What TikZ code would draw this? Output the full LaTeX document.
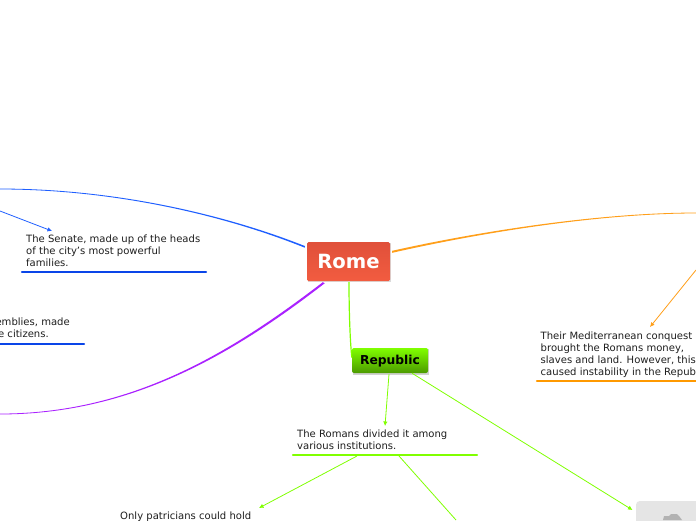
\documentclass[tikz,border=0pt]{standalone}
\usepackage{fontspec}
\setmainfont{DejaVu Sans}
\usetikzlibrary{arrows.meta,calc}
\definecolor{linkblue}{HTML}{1F5FFF}
\definecolor{ulblue}{HTML}{0A45E8}
\definecolor{linkorange}{HTML}{FF9F1A}
\definecolor{ulorange}{HTML}{FF9900}
\definecolor{linkgreen}{HTML}{80FF00}
\definecolor{linkpurple}{HTML}{AA22FF}
\definecolor{rometop}{HTML}{E0503A}
\definecolor{romebot}{HTML}{F25C40}
\definecolor{reptop}{HTML}{80FF00}
\definecolor{repbot}{HTML}{4C9A00}
\tikzset{
  x=1pt,y=-1pt,
  body/.style={anchor=north west,inner sep=0pt,align=left,text=black!88,font=\fontsize{10.05}{12}\selectfont},
  romebox/.style={minimum width=83pt,minimum height=39pt,inner sep=0pt,rounded corners=1.5pt,top color=rometop,bottom color=romebot,text=white,font=\bfseries\fontsize{19.6}{22}\selectfont},
  repbox/.style={minimum width=76pt,minimum height=25pt,inner sep=0pt,rounded corners=2pt,top color=reptop,bottom color=repbot,text=black,font=\bfseries\fontsize{12.3}{14}\selectfont},
  thin arrow/.style={line width=.8pt,-{Latex[length=4.5pt,width=4.5pt]}},
  underl/.style={line width=2.2pt,line cap=round}
}
\begin{document}
\begin{tikzpicture}
\useasboundingbox (0,0) rectangle (696,520);
\clip (0,0) rectangle (696,520);
\fill[white] (0,0) rectangle (696,520);

% free ends
\coordinate (bl) at (0,189);
\coordinate (pl) at (0,414);
\coordinate (or) at (696,213);
\coordinate (bs) at (0,211);
\coordinate (os) at (696,270);
\coordinate (gb) at (456,520);

% image placeholder
\node[fill=black!10,rounded corners=3pt,minimum width=80pt,minimum height=40pt,anchor=north west,inner sep=0pt] (img) at (636,501) {};
\fill[black!30] (663,520) -- (664,516) -- (669,516) -- (671,514) -- (677,514) -- (679,516) -- (682,520) -- cycle;

% central nodes
\fill[black!14] (307.5,243) rectangle (390.5,282);
\fill[black!18] (352.5,349) rectangle (428.5,374.5);
\node[romebox,text depth=0pt,text height=14pt] (rome) at (348.5,261.5) {Rome};
\node[repbox,text depth=2pt,text height=9.5pt] (rep) at (390,360.5) {Republic};

% text nodes
\node[body] (senate) at (26,234.7) {The Senate, made up of the heads\\of the city's most powerful\\families.};
\node[body,anchor=north east] (assem) at (70,317.7) {emblies, made};
\node[body,anchor=north east] (citiz) at (49,329.7) {e citizens.};
\node[body] (conq) at (540.5,331.7) {Their Mediterranean conquest\\brought the Romans money,\\slaves and land. However, this\\caused instability in the Republ};
\node[body] (inst) at (297,429.7) {The Romans divided it among\\various institutions.};
\node[body] (patr) at (120,512) {Only patricians could hold};

% underlines
\coordinate (su1) at (22,272); \coordinate (su2) at (206,272);
\coordinate (au1) at (0,344); \coordinate (au2) at (84,344);
\coordinate (cu1) at (537,381); \coordinate (cu2) at (696,381);
\coordinate (iu1) at (293,455); \coordinate (iu2) at (477,455);
\draw[underl,ulblue] (su1) -- (su2);
\draw[underl,ulblue] (au1) -- (au2);
\draw[underl,ulorange] (cu1) -- (cu2);
\draw[underl,linkgreen] (iu1) -- (iu2);

% main links (tapered)
\coordinate (rb1) at ($(rome.north west)+(-2,4.2)$);
\coordinate (rb2) at ($(rome.north west)+(-2,5.9)$);
\fill[linkblue] (0,188.6) .. controls (110,188.6) and (220,212.5) .. (rb1) -- (rb2) .. controls (220,213.6) and (110,189.4) .. (0,189.4) -- cycle;
\coordinate (rp1) at ($(rome.south west)+(16,1)$);
\coordinate (rp2) at ($(rome.south west)+(18,2)$);
\fill[linkpurple] (0,413.6) .. controls (130,413.6) and (229,354.2) .. (rp1) -- (rp2) .. controls (231,355.8) and (130,414.4) .. (0,414.4) -- cycle;
\coordinate (ro1) at ($(rome.north east)+(2,9)$);
\coordinate (ro2) at ($(rome.north east)+(2,11)$);
\fill[linkorange] (ro1) .. controls (480,231.2) and (600,212.6) .. (696,212.6) -- (696,213.4) .. controls (600,213.4) and (480,232.8) .. (ro2) -- cycle;
\draw[line width=1.2pt,linkgreen] ($(rome.south)+(.5,1)$) .. controls (349,310) and (350,340) .. ($(rep.west)+(0,-3)$);

% secondary links
\draw[thin arrow,linkblue] (bs) -- ($(senate.north west)+(26,-3.7)$);
\draw[thin arrow,linkorange] (os) -- ($(conq.north west)+(109.5,-4.7)$);
\draw[thin arrow,linkgreen] ($(rep.south)+(-1,1)$) -- ($(inst.north west)+(88,-3.7)$);
\draw[thin arrow,linkgreen] ($(rep.south)+(22,0)$) -- ($(img.north west)+(-3.5,9)$);
\draw[thin arrow,linkgreen] ($(iu1)+(64,1)$) -- ($(patr.north west)+(139,-4)$);
\draw[line width=.8pt,linkgreen] ($(iu1)+(106,1)$) -- (gb);
\end{tikzpicture}
\end{document}
